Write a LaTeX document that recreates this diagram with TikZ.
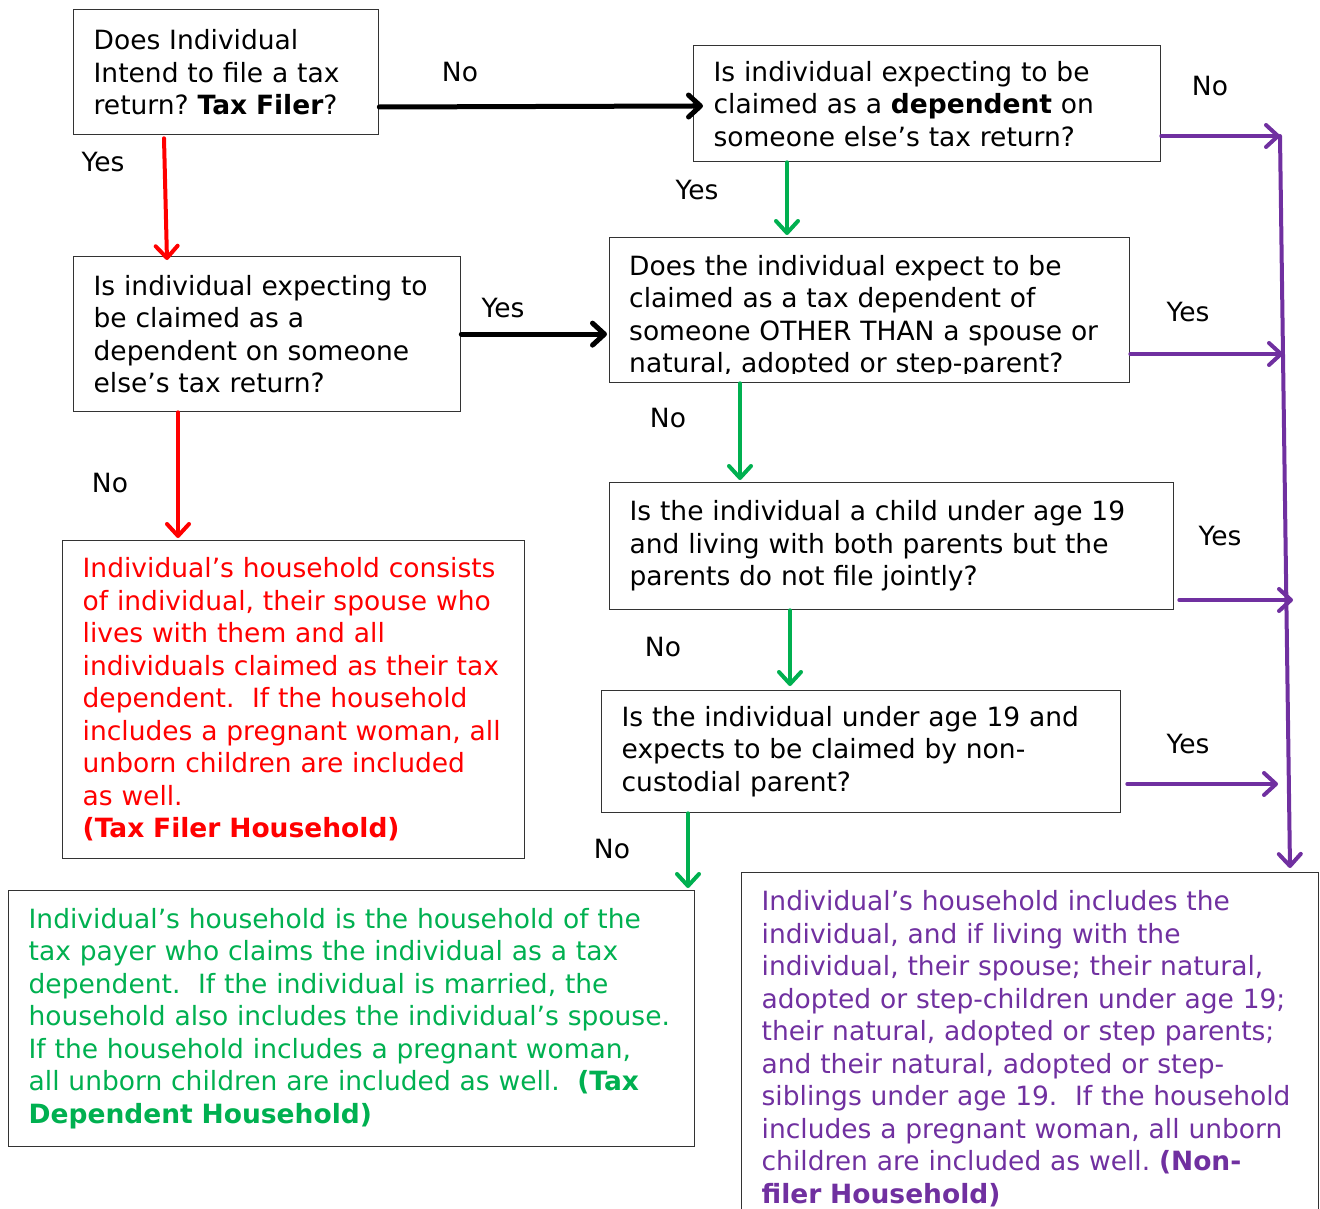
\documentclass[tikz,border=0pt]{standalone}
\usepackage{fontspec}
\setmainfont{DejaVu Sans}
\usetikzlibrary{arrows.meta,calc}
\definecolor{filerred}{HTML}{FF0000}
\definecolor{depgreen}{HTML}{00B050}
\definecolor{nonpurple}{HTML}{7030A0}
\newcommand{\qfont}{\fontsize{26.5}{32.5}\selectfont\frenchspacing}
\begin{document}
\begin{tikzpicture}[x=1pt,y=-1pt,
    qbox/.style={draw=black!80, line width=1.3pt, anchor=north west, align=left,
      inner xsep=20pt, inner ysep=8pt, font=\qfont},
    qtext/.style={anchor=north west, align=left, inner sep=0pt, font=\qfont},
    lbl/.style={font=\qfont, inner sep=0pt},
    flow/.style={line width=4pt, line cap=round,
      -{Straight Barb[length=12pt,width=22pt,round]}},
    blackflow/.style={flow, line width=5pt, black},
    redflow/.style={flow, filerred},
    greenflow/.style={flow, depgreen},
    purpleflow/.style={flow, nonpurple}]
  \useasboundingbox (0,0) rectangle (1320,1209);

  % questions
  \node[qbox, text width=265pt, minimum height=125pt] (a) at (73,9)
    {Does Individual\\Intend to file a tax\\return? \textbf{Tax Filer}?};
  \node[qbox, text width=427pt, minimum height=116pt] (b) at (693,45)
    {Is individual expecting to be\\claimed as a \textbf{dependent} on\\someone else’s tax return?};
  \node[qbox, text width=347pt, minimum height=155pt] (c) at (73,256)
    {Is individual expecting to\\be claimed as a\\dependent on someone\\else’s tax return?};
  \begin{scope}
    \clip (609,237) rectangle (1129,373);
    \node[qtext, text width=480pt] (dtext) at (629,255)
      {Does the individual expect to be\\claimed as a tax dependent of\\someone OTHER THAN a spouse or\\natural, adopted or step-parent?};
  \end{scope}
  \node[qbox, text width=480pt, minimum height=145pt] (d) at (609,237) {};
  \node[qbox, text width=524pt, minimum height=127pt] (f) at (609,482)
    {Is the individual a child under age 19\\and living with both parents but the\\parents do not file jointly?};
  \node[qbox, text width=479pt, minimum height=122pt] (g) at (601,690)
    {Is the individual under age 19 and\\expects to be claimed by non-\\custodial parent?};

  % households
  \node[qbox, text=filerred, text width=422pt, minimum height=318pt] (e) at (62,540)
    {Individual’s household consists\\of individual, their spouse who\\lives with them and all\\individuals claimed as their tax\\dependent.\ \ If the household\\includes a pregnant woman, all\\unborn children are included\\as well.\\\textbf{(Tax Filer Household)}};
  \node[qbox, text=depgreen, text width=646pt, minimum height=256pt] (h) at (8,890)
    {Individual’s household is the household of the\\tax payer who claims the individual as a tax\\dependent.\ \ If the individual is married, the\\household also includes the individual’s spouse.\\If the household includes a pregnant woman,\\all unborn children are included as well.\ \ \textbf{(Tax}\\\textbf{Dependent Household)}};
  \node[qbox, text=nonpurple, text width=537pt, inner ysep=18pt] (i) at (741,872)
    {Individual’s household includes the\\individual, and if living with the\\individual, their spouse; their natural,\\adopted or step-children under age 19;\\their natural, adopted or step parents;\\and their natural, adopted or step-\\siblings under age 19.\ \ If the household\\includes a pregnant woman, all unborn\\children are included as well. \textbf{(Non-}\\\textbf{filer Household)}};

  % purple collector
  \coordinate (ptop) at (1280,136);
  \coordinate (pbot) at (1290,868);
  \coordinate (pd) at (1283,354);
  \coordinate (pf) at (1293,600);
  \coordinate (pg) at (1278,784);

  % connectors
  \draw[blackflow, shorten >=-10pt] (a.east |- 0,107) -- (b.west |- 0,106);
  \node[lbl] (no1) at (460,72) {No};
  \draw[redflow] ($(a.south west)+(91,3)$) -- ($(c.north west)+(94,4)$);
  \node[lbl] (yes1) at (103,162) {Yes};
  \draw[blackflow] (c.east) -- ($(d.west |- c.east)+(-2,0)$);
  \node[lbl] (yes2) at (503,308) {Yes};
  \draw[redflow] ($(c.south west)+(105,0)$) -- ($(e.north west)+(116,-2)$);
  \node[lbl] (no2) at (110,483) {No};
  \draw[greenflow] ($(b.south west)+(94,0)$) -- ($(d.north west)+(178,-2)$);
  \node[lbl] (yes3) at (697,190) {Yes};
  \draw[greenflow] ($(d.south west)+(131,0)$) -- ($(f.north west)+(131,-2)$);
  \node[lbl] (no3) at (668,418) {No};
  \draw[greenflow] ($(f.south west)+(181,0)$) -- ($(g.north west)+(189,-4)$);
  \node[lbl] (no4) at (663,647) {No};
  \draw[greenflow] ($(g.south west)+(87,0)$) -- ($(h.north west)+(680,-2)$);
  \node[lbl] (no5) at (612,849) {No};

  \draw[purpleflow] (b.east |- ptop) -- (ptop);
  \node[lbl] (no6) at (1210,86) {No};
  \draw[purpleflow] (ptop) -- (pbot);
  \draw[purpleflow] (d.east |- pd) -- (pd);
  \node[lbl] (yes4) at (1188,312) {Yes};
  \draw[purpleflow] ($(f.east |- pf)+(5,0)$) -- (pf);
  \node[lbl] (yes5) at (1220,536) {Yes};
  \draw[purpleflow] ($(g.east |- pg)+(6,0)$) -- (pg);
  \node[lbl] (yes6) at (1188,744) {Yes};
\end{tikzpicture}
\end{document}
